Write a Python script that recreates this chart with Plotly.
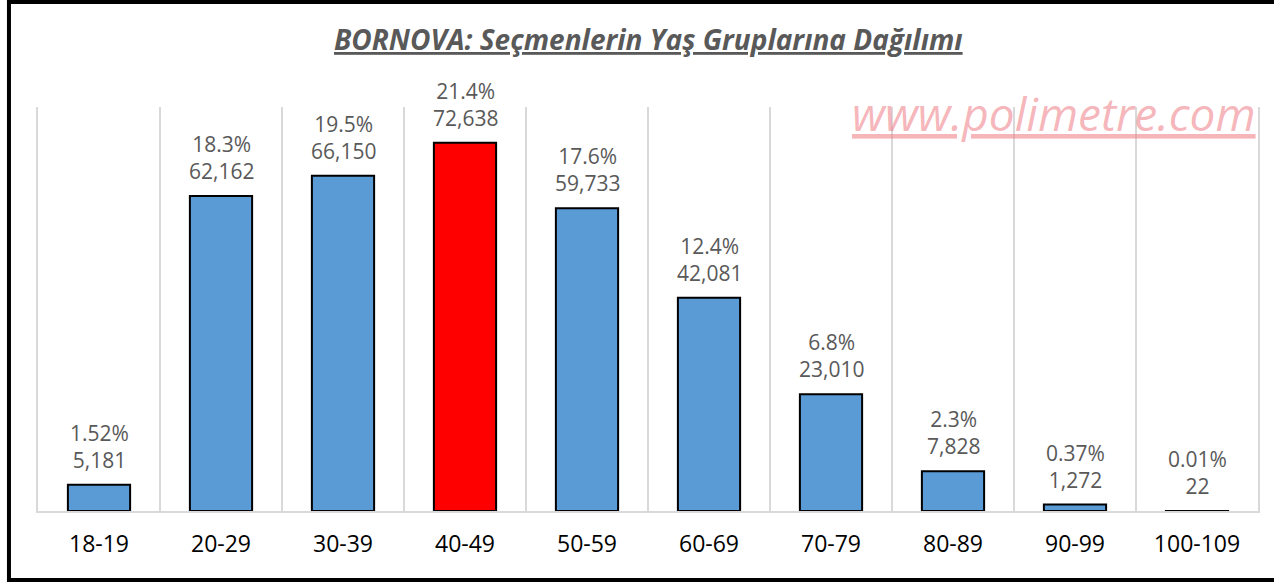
import plotly.graph_objects as go

# Bornova voters by age group
age_groups = ["18-19", "20-29", "30-39", "40-49", "50-59", "60-69", "70-79", "80-89", "90-99", "100-109"]
voters = [5181, 62162, 66150, 72638, 59733, 42081, 23010, 7828, 1272, 22]
shares = ["1.52%", "18.3%", "19.5%", "21.4%", "17.6%", "12.4%", "6.8%", "2.3%", "0.37%", "0.01%"]
highlight = "40-49"

BLUE = "#5B9BD5"
RED = "#FF0000"
GREY_TXT = "#595959"
GRID = "#D9D9D9"
FONT = "Open Sans"

colors = [RED if g == highlight else BLUE for g in age_groups]

fig = go.Figure()
fig.add_trace(
    go.Bar(
        x=age_groups,
        y=voters,
        marker={"color": colors, "line": {"color": "black", "width": 2}},
        hoverinfo="skip",
        showlegend=False,
    )
)

for g, v, s in zip(age_groups, voters, shares):
    fig.add_annotation(
        x=g,
        y=v,
        text=f"{s}<br>{v:,}",
        showarrow=False,
        yanchor="bottom",
        yshift=9,
        font={"family": FONT, "size": 21, "color": GREY_TXT},
    )

# title
fig.add_annotation(
    xref="paper", yref="paper", x=0.5, y=1.168, xanchor="center", yanchor="middle",
    text="<b><i><u>BORNOVA: Seçmenlerin Yaş Gruplarına Dağılımı</u></i></b>",
    showarrow=False,
    font={"family": FONT, "size": 28, "color": GREY_TXT},
)

# watermark
fig.add_annotation(
    xref="paper", yref="paper", x=1.0, y=0.985, xanchor="right", yanchor="middle",
    text="<i><u>www.polimetre.com</u></i>",
    showarrow=False,
    font={"family": FONT, "size": 46, "color": "rgba(238,120,128,0.55)"},
)

# outer frame
fig.add_shape(
    type="rect", xref="paper", yref="paper",
    x0=-0.0238, x1=1.02, y0=-0.171, y1=1.26,
    line={"color": "black", "width": 4},
)

fig.update_layout(
    width=1274,
    height=582,
    paper_bgcolor="white",
    plot_bgcolor="white",
    bargap=0.49,
    margin={"l": 38, "r": 16, "t": 107, "b": 71},
    font={"family": FONT},
    xaxis={
        "tickson": "boundaries",
        "showgrid": True,
        "gridcolor": GRID,
        "gridwidth": 1.5,
        "showline": True,
        "linecolor": GRID,
        "linewidth": 1.5,
        "ticks": "",
        "ticklabelstandoff": 12,
        "tickfont": {"family": FONT, "size": 23, "color": "black"},
    },
    yaxis={
        "range": [0, 79700],
        "showticklabels": False,
        "showgrid": False,
        "zeroline": False,
        "showline": True,
        "mirror": True,
        "linecolor": GRID,
        "linewidth": 1.5,
        "ticks": "",
    },
)

fig.write_html(
    "out.html",
    config={"displayModeBar": False},
    post_script="document.body.style.margin='0px';",
)
